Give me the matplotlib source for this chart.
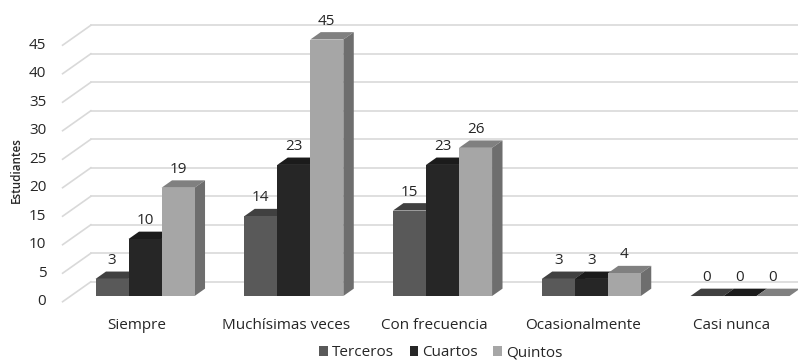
import matplotlib
matplotlib.use("Agg")
import matplotlib.pyplot as plt
from matplotlib.patches import Polygon, Patch
import numpy as np

plt.rcParams["font.family"] = ["Open Sans", "DejaVu Sans"]

categories = ["Siempre", "Muchísimas veces", "Con frecuencia", "Ocasionalmente", "Casi nunca"]
series_names = ["Terceros", "Cuartos", "Quintos"]
terceros = [3, 14, 15, 3, 0]
cuartos = [10, 23, 23, 3, 0]
quintos = [19, 45, 26, 4, 0]
y_ticks = [0, 5, 10, 15, 20, 25, 30, 35, 40, 45]

series_values = [terceros, cuartos, quintos]
front_colors = ["#595959", "#262626", "#a6a6a6"]
top_colors = ["#404040", "#1b1b1b", "#808080"]
side_colors = ["#3a3a3a", "#141414", "#6e6e6e"]
text_color = "#262626"
grid_color = "#d9d9d9"
fs = 11

# Oblique projection: full depth of the floor, in data units
DX, DY = 0.19, 3.5
D_FRONT, D_BACK = 0.285, 0.655
bar_w = 0.222

fig = plt.figure(figsize=(7.98, 3.61), dpi=100)
ax = fig.add_axes([0, 0, 1, 1])
ax.set_xlim(-0.921, 4.444)
ax.set_ylim(-10.4, 52.93)
ax.axis("off")

x = np.arange(len(categories))
left_edge = -0.5
right_edge = len(categories) - 0.5 + DX + 0.2

# Walls: diagonal lines on the left wall, horizontal lines on the back wall
for t in y_ticks:
    ax.plot([left_edge, left_edge + DX], [t, t + DY], color=grid_color, lw=1.2, zorder=0)
    ax.plot([left_edge + DX, right_edge], [t + DY, t + DY], color=grid_color, lw=1.2, zorder=0)
    ax.text(left_edge - 0.11, t, str(t), ha="right", va="center",
            fontsize=fs, color=text_color)

ddx = DX * (D_BACK - D_FRONT)
ddy = DY * (D_BACK - D_FRONT)
x0 = DX * D_FRONT
y0 = DY * D_FRONT

for j, (vals, fc, tc, sc) in enumerate(zip(series_values, front_colors, top_colors, side_colors)):
    xs = x + x0 + (j - 1) * bar_w
    ax.bar(xs, vals, width=bar_w, bottom=y0, color=fc, linewidth=0, zorder=3 + 2 * j)
    for xc, v in zip(xs, vals):
        xl, xr = xc - bar_w / 2, xc + bar_w / 2
        top = y0 + v
        ax.add_patch(Polygon([(xl, top), (xr, top), (xr + ddx, top + ddy), (xl + ddx, top + ddy)],
                             closed=True, facecolor=tc, edgecolor="none", zorder=2 + 2 * j))
        if v > 0:
            ax.add_patch(Polygon([(xr, y0), (xr + ddx, y0 + ddy), (xr + ddx, top + ddy), (xr, top)],
                                 closed=True, facecolor=sc, edgecolor="none", zorder=2 + 2 * j))
        ax.annotate(str(v), (xc, top), xytext=(0, 13.3), textcoords="offset points",
                    ha="center", va="center", fontsize=fs, color=text_color, zorder=20)

for xi, name in zip(x, categories):
    ax.text(xi, -4.1, name, ha="center", va="center", fontsize=fs, color=text_color)

ax.text(16 / 798 * 5.365 - 0.921, 52.93 - 170 / 5.7, "Estudiantes", rotation=90,
        ha="center", va="center", fontsize=8.4, fontweight="semibold", color=text_color)

handles = [Patch(facecolor=c, edgecolor="none") for c in front_colors]
fig.legend(handles, series_names, loc="center", bbox_to_anchor=(441 / 798, 1 - 353 / 361),
           ncol=3, frameon=False, fontsize=fs, handlelength=0.55, handleheight=0.55,
           handletextpad=0.3, columnspacing=1.0, labelcolor=text_color)

fig.savefig("out.png", dpi=100)
